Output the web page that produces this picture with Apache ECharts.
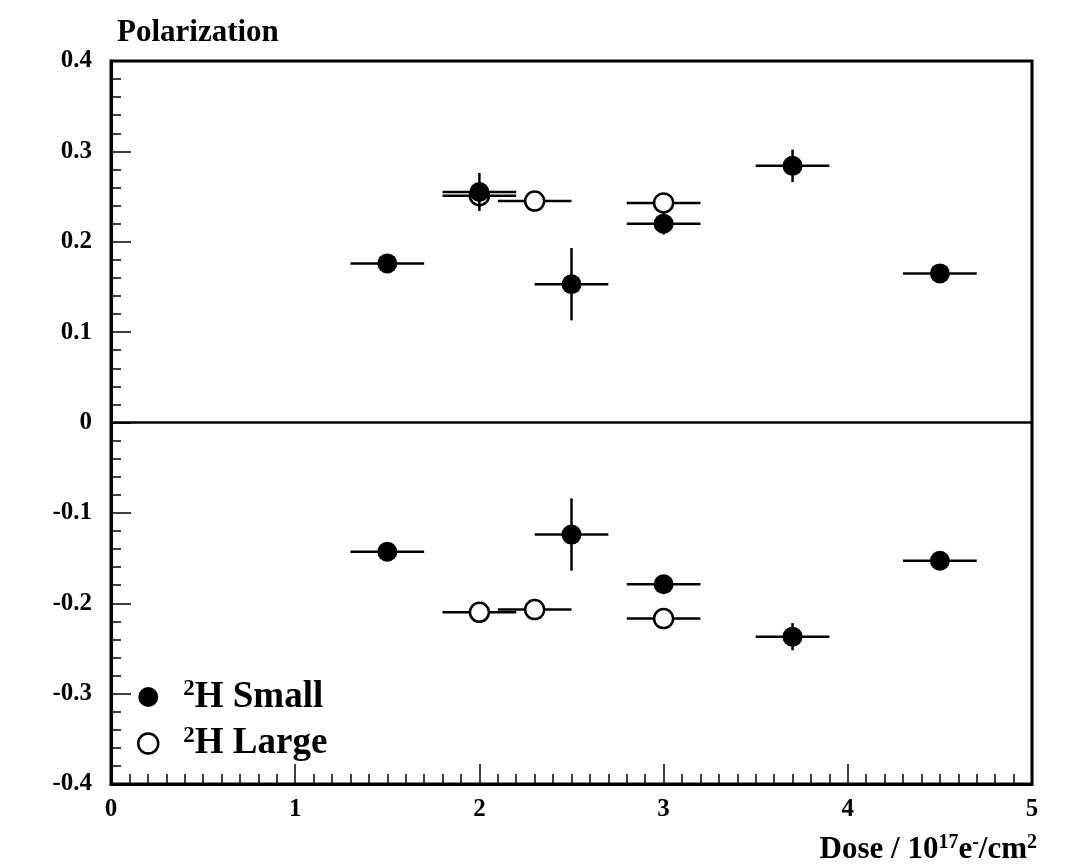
<!DOCTYPE html>
<html>
<head>
<meta charset="utf-8">
<script src="https://cdn.jsdelivr.net/npm/echarts@6/dist/echarts.min.js"></script>
<style>
  html, body { margin: 0; padding: 0; background: #fff; }
  #chart { width: 1077px; height: 865px; }
</style>
</head>
<body>
<div id="chart"></div>
<script>
// Deuteron target polarization versus accumulated dose
const smallDose    = [1.5, 2.0, 2.5, 3.0, 3.7, 4.5, 1.5, 2.5, 3.0, 3.7, 4.5];
const smallPol     = [0.176, 0.255, 0.153, 0.220, 0.284, 0.165, -0.143, -0.124, -0.179, -0.237, -0.153];
const smallDoseErr = [0.2, 0.2, 0.2, 0.2, 0.2, 0.2, 0.2, 0.2, 0.2, 0.2, 0.2];
const smallPolErr  = [0.004, 0.021, 0.040, 0.012, 0.018, 0.004, 0.004, 0.040, 0.004, 0.015, 0.004];

const largeDose    = [2.0, 2.3, 3.0, 2.0, 2.3, 3.0];
const largePol     = [0.251, 0.245, 0.243, -0.210, -0.207, -0.217];
const largeDoseErr = [0.2, 0.2, 0.2, 0.2, 0.2, 0.2];
const largePolErr  = [0.004, 0.004, 0.004, 0.004, 0.004, 0.004];

const doseRange = [0, 5];
const polRange = [-0.4, 0.4];

const FONT = '"Liberation Serif", "Times New Roman", serif';

function points(xs, ys) {
  return xs.map((x, i) => [x, ys[i]]);
}
function errRows(xs, ys, xe, ye) {
  return xs.map((x, i) => [x, ys[i], xe[i], ye[i]]);
}

// Cross-shaped error bars (horizontal: dose bin, vertical: polarization error)
function renderErr(params, api) {
  const x = api.value(0), y = api.value(1), dx = api.value(2), dy = api.value(3);
  const l = api.coord([x - dx, y]);
  const r = api.coord([x + dx, y]);
  const t = api.coord([x, y + dy]);
  const b = api.coord([x, y - dy]);
  const style = { stroke: '#000', lineWidth: 2.5 };
  return {
    type: 'group',
    children: [
      { type: 'line', shape: { x1: l[0], y1: l[1], x2: r[0], y2: r[1] }, style },
      { type: 'line', shape: { x1: t[0], y1: t[1], x2: b[0], y2: b[1] }, style }
    ]
  };
}

const chart = echarts.init(document.getElementById('chart'), null, { renderer: 'canvas' });

const richLegend = {
  s: { fontFamily: FONT, fontWeight: 'bold', fontSize: 23, color: '#000', lineHeight: 22, verticalAlign: 'top', padding: [0, 0, 0, 20] },
  b: { fontFamily: FONT, fontWeight: 'bold', fontSize: 37, color: '#000', lineHeight: 38 }
};

chart.setOption({
  backgroundColor: '#fff',
  animation: false,
  title: {
    text: 'Polarization',
    left: 112,
    top: 12,
    textStyle: { fontFamily: FONT, fontWeight: 'bold', fontSize: 31, color: '#000' }
  },
  grid: {
    left: 111, top: 61, width: 921, height: 723,
    show: true, borderColor: '#000', borderWidth: 3, backgroundColor: 'transparent'
  },
  legend: {
    orient: 'vertical',
    left: 132,
    top: 673,
    itemWidth: 20,
    itemHeight: 20,
    itemGap: 9,
    formatter: name => '{s|2}{b|H ' + name + '}',
    textStyle: { rich: richLegend },
    data: [
      { name: 'Small', icon: 'circle', itemStyle: { color: '#000', borderWidth: 0 } },
      { name: 'Large', icon: 'circle', itemStyle: { color: '#fff', borderColor: '#000', borderWidth: 2.5 } }
    ]
  },
  xAxis: {
    type: 'value',
    min: doseRange[0], max: doseRange[1], interval: 1,
    axisLine: { show: true, onZero: false, lineStyle: { color: '#000', width: 3 } },
    axisTick: { show: true, inside: true, length: 20, lineStyle: { color: '#000', width: 1.5 } },
    minorTick: { show: true, splitNumber: 10, length: 10, lineStyle: { color: '#000', width: 1.5 } },
    splitLine: { show: false },
    axisLabel: { margin: 13, fontFamily: FONT, fontWeight: 'bold', fontSize: 25, color: '#000' }
  },
  yAxis: {
    type: 'value',
    min: polRange[0], max: polRange[1], interval: 0.1,
    axisLine: { show: true, onZero: false, lineStyle: { color: '#000', width: 3 } },
    axisTick: { show: true, inside: true, length: 20, lineStyle: { color: '#000', width: 1.5 } },
    minorTick: { show: true, splitNumber: 5, length: 10, lineStyle: { color: '#000', width: 1.5 } },
    splitLine: { show: false },
    axisLabel: {
      margin: 19, fontFamily: FONT, fontWeight: 'bold', fontSize: 25, color: '#000',
      formatter: v => (Math.abs(v) < 1e-9 ? '0' : v.toFixed(1))
    }
  },
  graphic: [{
    type: 'text',
    right: 40,
    top: 833,
    style: {
      text: '{b|Dose / 10}{s|17}{b|e}{s|-}{b|/cm}{s|2}',
      rich: {
        b: { fontFamily: FONT, fontWeight: 'bold', fontSize: 31, fill: '#000', lineHeight: 34 },
        s: { fontFamily: FONT, fontWeight: 'bold', fontSize: 20, fill: '#000', lineHeight: 20, verticalAlign: 'top' }
      }
    }
  }],
  series: [
    {
      name: 'LargeErr', type: 'custom', renderItem: renderErr,
      data: errRows(largeDose, largePol, largeDoseErr, largePolErr),
      encode: { x: 0, y: 1 }, z: 2, silent: true
    },
    {
      name: 'Large', type: 'scatter', symbol: 'circle', symbolSize: 19,
      itemStyle: { color: '#fff', borderColor: '#000', borderWidth: 2.5, opacity: 1 },
      data: points(largeDose, largePol), z: 3,
      markLine: {
        silent: true, symbol: 'none', label: { show: false },
        lineStyle: { color: '#000', width: 2.5, type: 'solid' },
        data: [{ yAxis: 0 }]
      }
    },
    {
      name: 'SmallErr', type: 'custom', renderItem: renderErr,
      data: errRows(smallDose, smallPol, smallDoseErr, smallPolErr),
      encode: { x: 0, y: 1 }, z: 4, silent: true
    },
    {
      name: 'Small', type: 'scatter', symbol: 'circle', symbolSize: 20,
      itemStyle: { color: '#000', opacity: 1 },
      data: points(smallDose, smallPol), z: 5
    }
  ]
});
</script>
</body>
</html>
